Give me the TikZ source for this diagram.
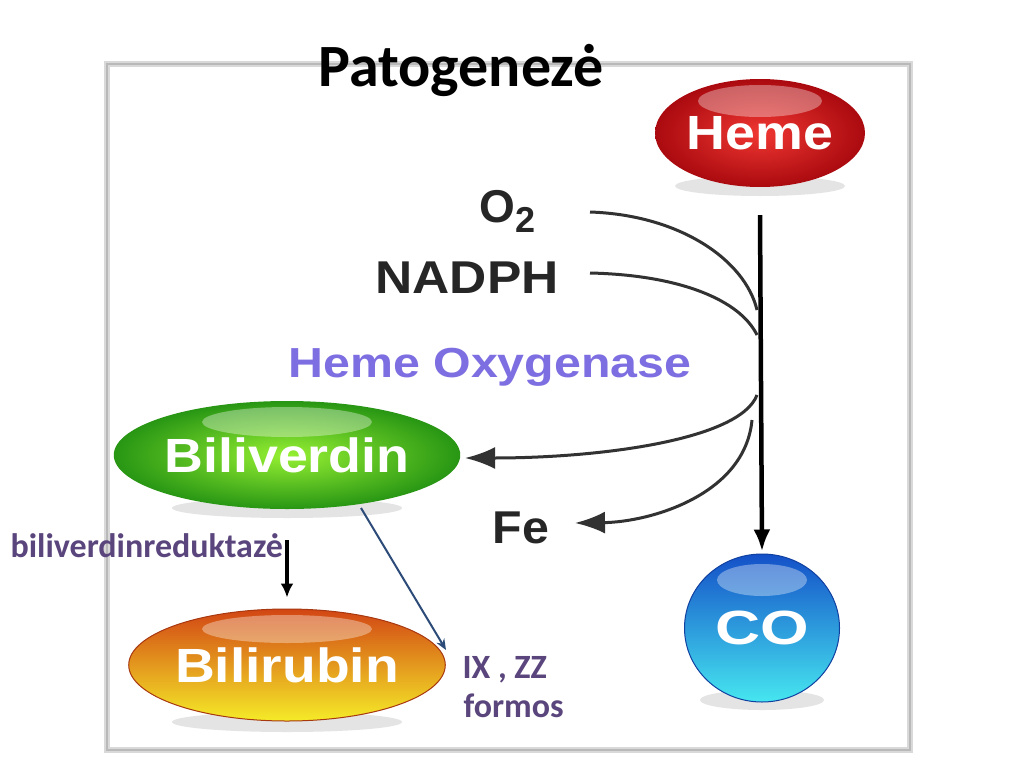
\documentclass[tikz,border=0pt]{standalone}
\usepackage{fontspec}
\setmainfont{Liberation Sans}
\newfontfamily\calib{Carlito}
\usetikzlibrary{shapes.geometric,arrows.meta,calc}
\definecolor{purpleT}{RGB}{90,70,125}
\definecolor{hoC}{RGB}{125,110,225}
\definecolor{lineblue}{RGB}{45,75,120}
\definecolor{hemeO}{RGB}{170,10,15}
\definecolor{hemeI}{RGB}{240,55,50}
\definecolor{greenO}{RGB}{40,150,20}
\definecolor{greenI}{RGB}{150,240,50}
\definecolor{orangeT}{RGB}{210,70,20}
\definecolor{orangeM}{RGB}{240,140,30}
\definecolor{yellowB}{RGB}{245,235,40}
\definecolor{blueT}{RGB}{20,80,200}
\definecolor{cyanB}{RGB}{70,230,240}
\definecolor{curveC}{RGB}{50,50,50}
\tikzset{
  ball/.style={ellipse, inner sep=0pt, text=white, font=\bfseries\fontsize{48}{48}\selectfont},
  shadowell/.style={fill=gray!35, opacity=0.6},
  gloss/.style={fill=white, opacity=0.35},
  bigtext/.style={font=\bfseries\fontsize{46}{46}\selectfont, text=black!85},
  lbl/.style={font=\calib\bfseries\fontsize{34}{40}\selectfont, text=purpleT},
  curve/.style={line width=3pt, draw=curveC},
  bigtip/.style={-{Latex[length=30pt,width=22pt]}},
}
\begin{document}
\begin{tikzpicture}[x=1pt,y=-1pt]
\useasboundingbox[fill=white] (0,0) rectangle (1024,768);
% frame
\draw[line width=6pt, gray!30] (107,64) rectangle (910,750);
\draw[line width=1.5pt, gray!55] (107,64) rectangle (910,750);
% title
\node[font=\calib\bfseries\fontsize{60}{72}\selectfont, anchor=base] (title) at (461,86) {Patogenezė};
% shadows
\fill[shadowell] (760,186) ellipse (85 and 10);
\fill[shadowell] (287,508) ellipse (115 and 10);
\fill[shadowell] (287,722) ellipse (115 and 10);
\fill[shadowell] (762,700) ellipse (62 and 10);
% balls
\node[ball, minimum width=210pt, minimum height=108pt, inner color=hemeI, outer color=hemeO] (heme) at (760,133) {\scalebox{1.12}[1]{Heme}};
\node[ball, minimum width=282pt, minimum height=108pt, inner color=greenI, outer color=greenO] (biliv) at (287,455) {\scalebox{1.12}[1]{Biliverdin}};
\node[ball, minimum width=288pt, minimum height=112pt, top color=orangeT, middle color=orangeM, bottom color=yellowB, draw=orangeT!80!black, line width=1pt] (bilir) at (287,665) {\scalebox{1.15}[1]{Bilirubin}};
\node[ball, minimum width=155pt, minimum height=148pt, top color=blueT, bottom color=cyanB, draw=blueT!80!black, line width=1pt] (co) at (762,628) {\scalebox{1.3}[1]{CO}};
% gloss highlights
\fill[gloss] ($(heme.center)+(0,-32)$) ellipse (62 and 16);
\fill[gloss] ($(biliv.center)+(0,-33)$) ellipse (85 and 15);
\fill[gloss] ($(bilir.center)+(0,-36)$) ellipse (85 and 14);
\fill[gloss] ($(co.center)+(0,-48)$) ellipse (45 and 16);
% texts
\node[bigtext, anchor=base west] (o2) at (476,222) {O\raisebox{-0.22em}{\fontsize{36}{36}\selectfont 2}};
\node[bigtext] (nadph) at (467,278) {\scalebox{1.12}[1]{NADPH}};
\node[font=\bfseries\fontsize{42}{42}\selectfont, text=hoC] (ho) at (490,367) {\scalebox{1.15}[1]{Heme Oxygenase}};
\node[bigtext] (fe) at (521,528) {\scalebox{1.05}[1]{Fe}};
% points on the main line
\coordinate (vtop) at ($(heme.south)+(0,28)$);
\coordinate (in1) at (757,310);
\coordinate (in2) at (757,335);
\coordinate (out1) at (757,395);
\coordinate (out2) at (752,420);
\coordinate (o2s) at (590,212);
\coordinate (nads) at (590,273);
\coordinate (bvend) at (465,458);
\coordinate (feend) at (575,523);
% main arrow
\draw[line width=4.5pt, -{Latex[length=22pt,width=17pt]}] (vtop) -- ($(co.north)+(0,-2)$);
% curves
\draw[curve] (o2s) .. controls (680,215) and (745,260) .. (in1);
\draw[curve] (nads) .. controls (680,275) and (740,300) .. (in2);
\draw[curve, bigtip] (out1) .. controls (740,440) and (600,458) .. (bvend);
\draw[curve, bigtip] (out2) .. controls (745,495) and (650,522) .. (feend);
% biliverdin -> bilirubin
\draw[line width=4pt, -{Latex[length=14pt,width=13pt]}] ($(biliv.south)+(0,31)$) -- ($(bilir.north)+(0,-11)$);
% blue line
\draw[line width=2pt, lineblue, -{Stealth[length=11pt,width=9pt]}] (361,508) -- (446,650);
% labels
\node[lbl, anchor=base west] (bvr) at (7,557) {biliverdinreduktazė};
\node[lbl, anchor=base west, align=left] (ix) at (459,678) {IX , ZZ};
\node[lbl, anchor=base west] (formos) at (460,717) {formos};
\end{tikzpicture}
\end{document}
